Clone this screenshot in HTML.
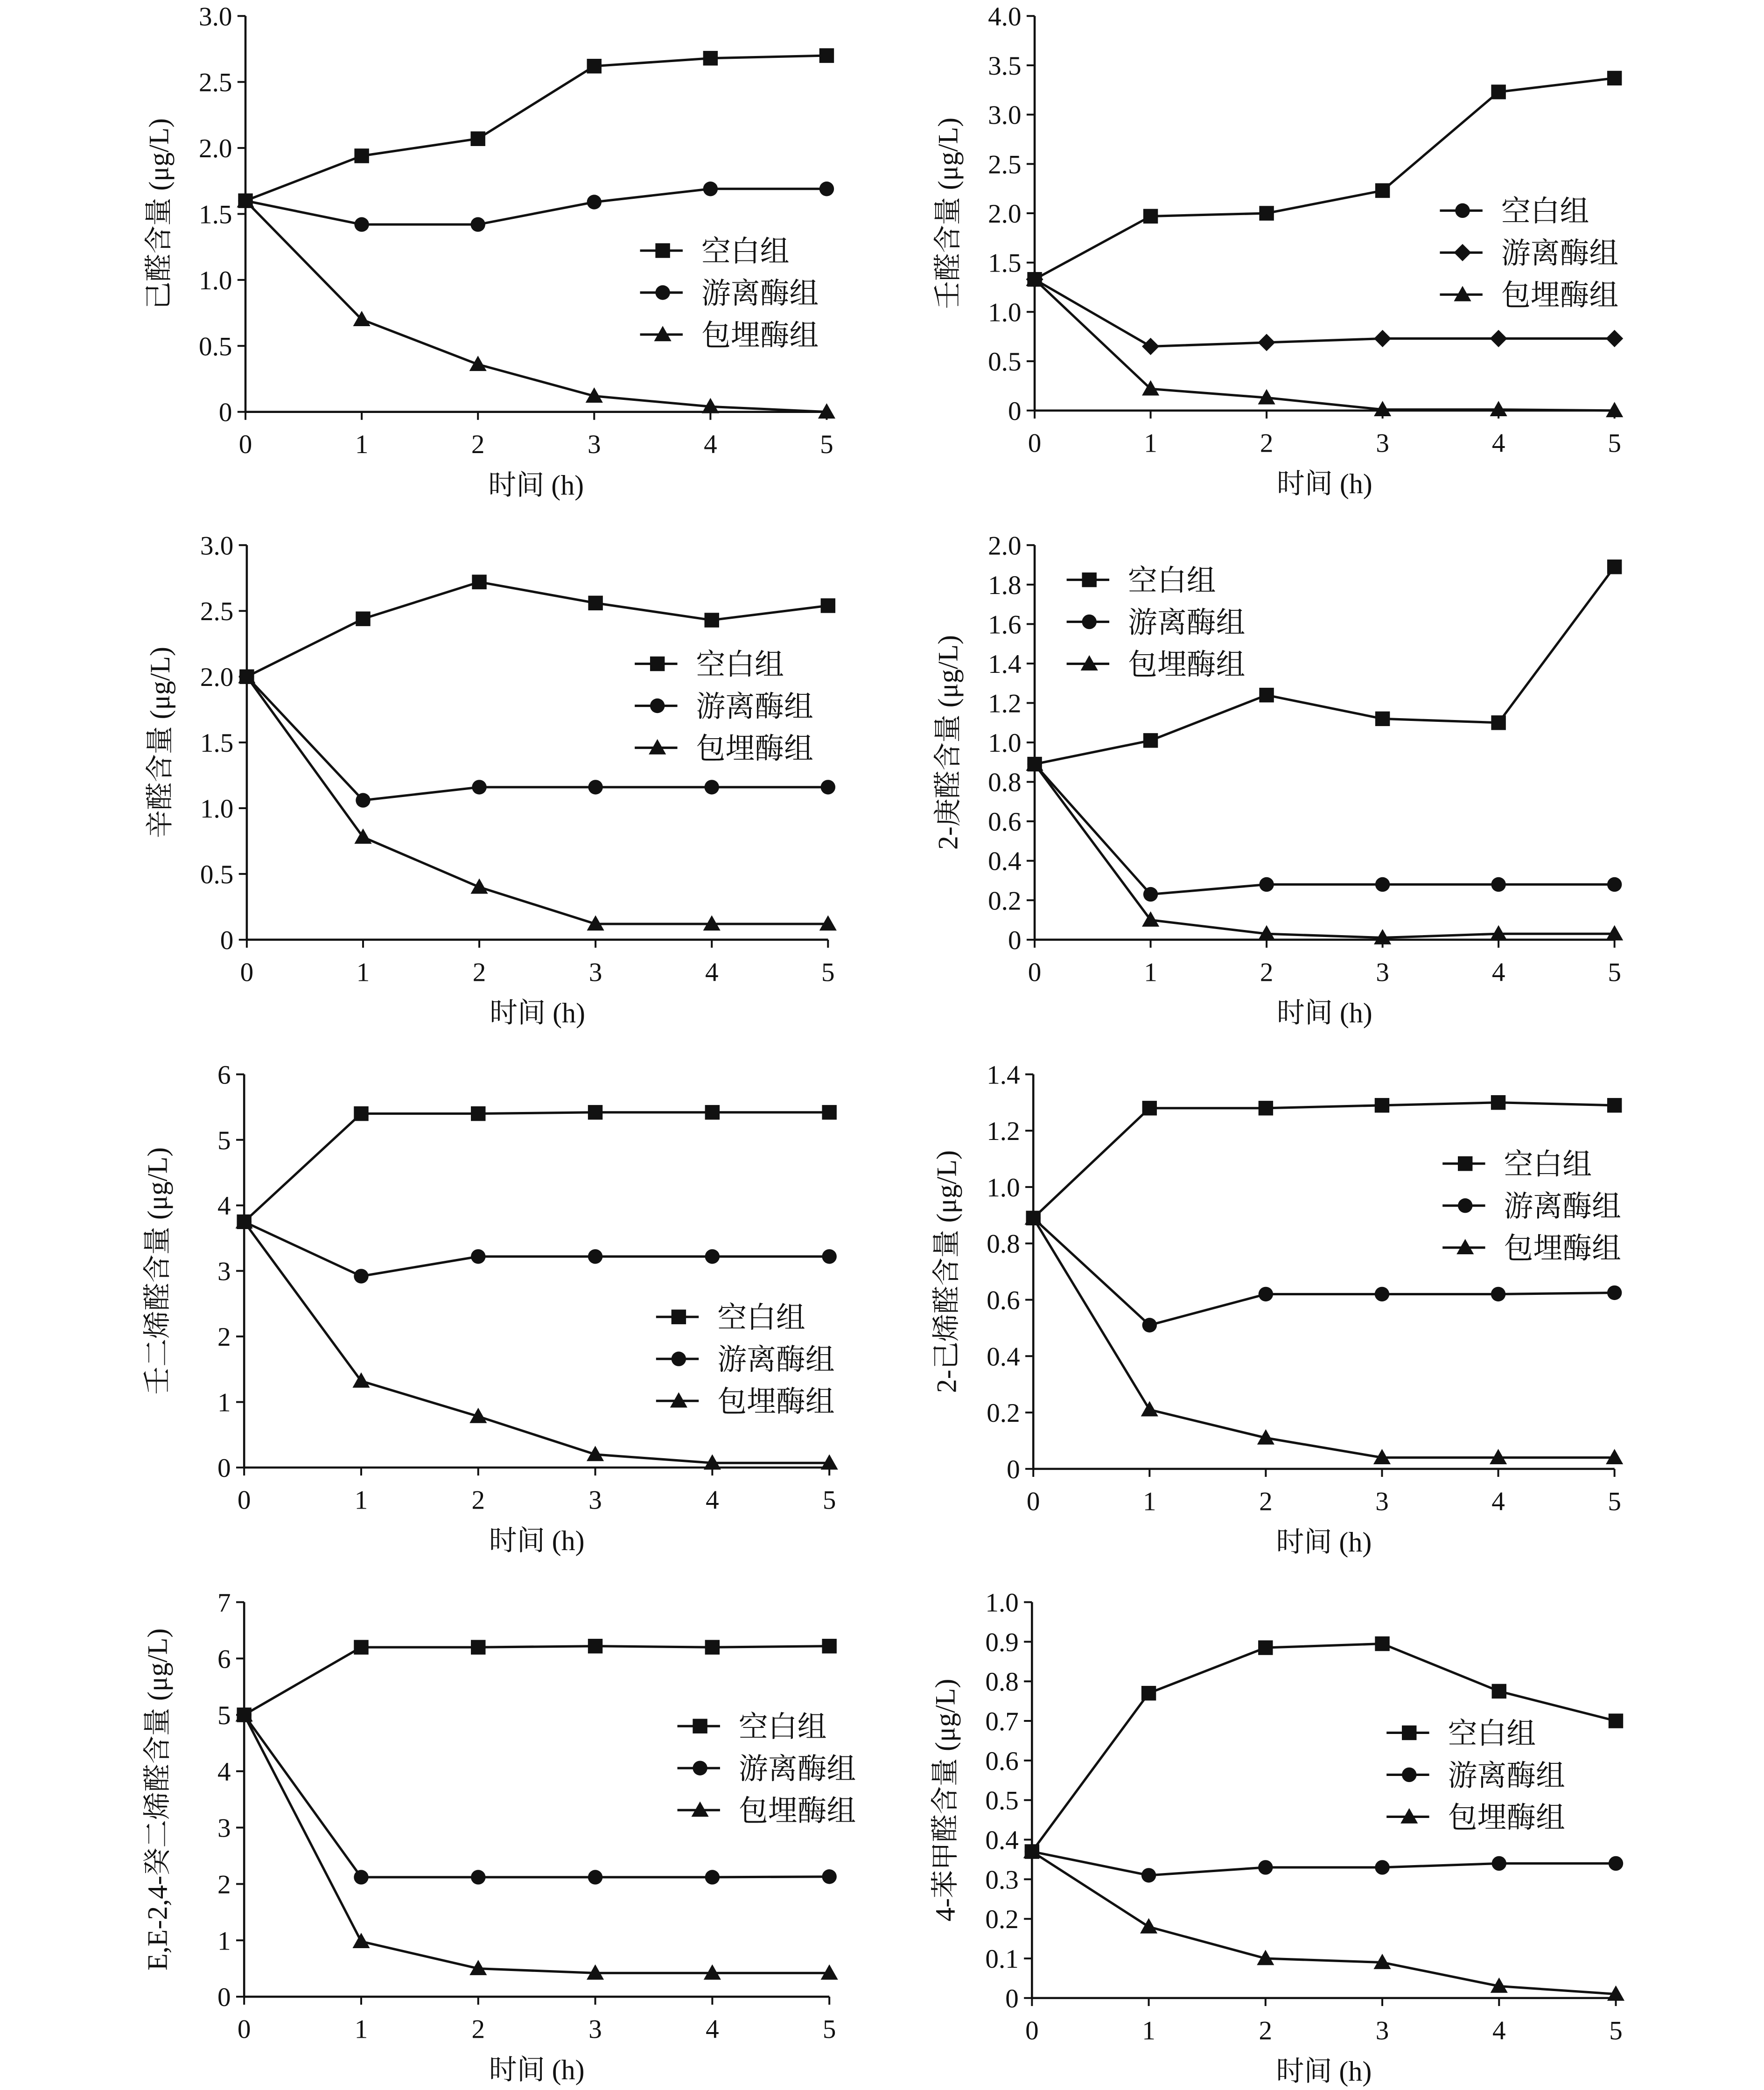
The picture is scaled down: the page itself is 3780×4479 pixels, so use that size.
<!DOCTYPE html>
<html><head><meta charset="utf-8">
<style>
html,body{margin:0;padding:0;background:#fff;}
svg{display:block;}
text{font-family:"Liberation Serif","Noto Serif CJK SC","Noto Sans CJK SC",serif;fill:#111;}
</style></head>
<body>
<svg id="fig" width="3780" height="4479" viewBox="0 0 1323 1568" xmlns="http://www.w3.org/2000/svg"></svg>
<script>
const xCategories = [0,1,2,3,4,5];
const seriesNames = ["空白组","游离酶组","包埋酶组"];
// panel data
const p1Blank=[1.6,1.94,2.07,2.62,2.68,2.7], p1Free=[1.6,1.42,1.42,1.59,1.69,1.69], p1Enc=[1.6,0.7,0.36,0.12,0.04,0.0];
const p2Blank=[1.33,1.97,2.0,2.23,3.23,3.37], p2Free=[1.33,0.65,0.69,0.73,0.73,0.73], p2Enc=[1.33,0.22,0.13,0.01,0.01,0.0];
const p3Blank=[2.0,2.44,2.72,2.56,2.43,2.54], p3Free=[2.0,1.06,1.16,1.16,1.16,1.16], p3Enc=[2.0,0.78,0.4,0.12,0.12,0.12];
const p4Blank=[0.89,1.01,1.24,1.12,1.1,1.89], p4Free=[0.89,0.23,0.28,0.28,0.28,0.28], p4Enc=[0.89,0.1,0.03,0.01,0.03,0.03];
const p5Blank=[3.75,5.4,5.4,5.42,5.42,5.42], p5Free=[3.75,2.92,3.22,3.22,3.22,3.22], p5Enc=[3.75,1.32,0.78,0.2,0.07,0.07];
const p6Blank=[0.89,1.28,1.28,1.29,1.3,1.29], p6Free=[0.89,0.51,0.62,0.62,0.62,0.625], p6Enc=[0.89,0.21,0.11,0.04,0.04,0.04];
const p7Blank=[5.0,6.2,6.2,6.22,6.2,6.22], p7Free=[5.0,2.12,2.12,2.12,2.12,2.13], p7Enc=[5.0,0.98,0.5,0.42,0.42,0.42];
const p8Blank=[0.37,0.77,0.885,0.895,0.775,0.7], p8Free=[0.37,0.31,0.33,0.33,0.34,0.34], p8Enc=[0.37,0.18,0.1,0.09,0.03,0.01];
// tick labels
const ticks1=["0","0.5","1.0","1.5","2.0","2.5","3.0"];
const ticks2=["0","0.5","1.0","1.5","2.0","2.5","3.0","3.5","4.0"];
const ticks4=["0","0.2","0.4","0.6","0.8","1.0","1.2","1.4","1.6","1.8","2.0"];
const ticks5=["0","1","2","3","4","5","6"];
const ticks6=["0","0.2","0.4","0.6","0.8","1.0","1.2","1.4"];
const ticks7=["0","1","2","3","4","5","6","7"];
const ticks8=["0","0.1","0.2","0.3","0.4","0.5","0.6","0.7","0.8","0.9","1.0"];
const yTitles=["己醛含量 (μg/L)","壬醛含量 (μg/L)","辛醛含量 (μg/L)","2-庚醛含量 (μg/L)","壬二烯醛含量 (μg/L)","2-己烯醛含量 (μg/L)","E,E-2,4-癸二烯醛含量 (μg/L)","4-苯甲醛含量 (μg/L)"];

const NS="http://www.w3.org/2000/svg";
const svg=document.getElementById('fig');
function el(tag,attrs,parent){const e=document.createElementNS(NS,tag);for(const k in attrs)e.setAttribute(k,attrs[k]);(parent||svg).appendChild(e);return e;}

function marker(g,shape,cx,cy){
  let m;
  if(shape==='s') m=el('rect',{x:cx-5.5,y:cy-5.5,width:11,height:11,fill:'#111'},g);
  else if(shape==='c') m=el('circle',{cx:cx,cy:cy,r:5.5,fill:'#111'},g);
  else if(shape==='d') m=el('polygon',{points:`${cx},${cy-6.5} ${cx+6.5},${cy} ${cx},${cy+6.5} ${cx-6.5},${cy}`,fill:'#111'},g);
  else m=el('polygon',{points:`${cx},${cy-6.5} ${cx+6.5},${cy+5} ${cx-6.5},${cy+5}`,fill:'#111'},g);
  return m;
}

const panels=[
 {x0:184,x1:620,y0:309,y1:12,ticks:ticks1,ymax:3,series:[p1Blank,p1Free,p1Enc],shapes:['s','c','t'],leg:{x:480,y:188},legShapes:['s','c','t']},
 {x0:776,x1:1211,y0:308,y1:12,ticks:ticks2,ymax:4,series:[p2Blank,p2Free,p2Enc],shapes:['s','d','t'],leg:{x:1080,y:158},legShapes:['c','d','t']},
 {x0:185,x1:621,y0:705,y1:409,ticks:ticks1,ymax:3,series:[p3Blank,p3Free,p3Enc],shapes:['s','c','t'],leg:{x:476,y:498},legShapes:['s','c','t']},
 {x0:776,x1:1211,y0:705,y1:409,ticks:ticks4,ymax:2,series:[p4Blank,p4Free,p4Enc],shapes:['s','c','t'],leg:{x:800,y:435},legShapes:['s','c','t']},
 {x0:183,x1:622,y0:1101,y1:806,ticks:ticks5,ymax:6,series:[p5Blank,p5Free,p5Enc],shapes:['s','c','t'],leg:{x:492,y:988},legShapes:['s','c','t']},
 {x0:775,x1:1211,y0:1102,y1:806,ticks:ticks6,ymax:1.4,series:[p6Blank,p6Free,p6Enc],shapes:['s','c','t'],leg:{x:1082,y:873},legShapes:['s','c','t']},
 {x0:183,x1:622,y0:1498,y1:1202,ticks:ticks7,ymax:7,series:[p7Blank,p7Free,p7Enc],shapes:['s','c','t'],leg:{x:508,y:1295},legShapes:['s','c','t']},
 {x0:774,x1:1212,y0:1499,y1:1202,ticks:ticks8,ymax:1,series:[p8Blank,p8Free,p8Enc],shapes:['s','c','t'],leg:{x:1040,y:1300},legShapes:['s','c','t']}
];
const keys=['blank','free','encap'];

panels.forEach((p,i)=>{
  const g=el('g',{});
  
  
  const xs=v=>p.x0+(v/5)*(p.x1-p.x0);
  const ys=v=>p.y0-(v/p.ymax)*(p.y0-p.y1);
  // axes
  const ya=el('line',{x1:p.x0,y1:p.y1,x2:p.x0,y2:p.y0,stroke:'#111','stroke-width':1.6},g);
  
  
  const xa=el('line',{x1:p.x0,y1:p.y0,x2:p.x1,y2:p.y0,stroke:'#111','stroke-width':1.6},g);
  
  
  const n=p.ticks.length-1;
  p.ticks.forEach((t,k)=>{
    const yy=p.y0-(k/n)*(p.y0-p.y1);
    el('line',{x1:p.x0-6,y1:yy,x2:p.x0,y2:yy,stroke:'#111','stroke-width':1.4},g);
    const tx=el('text',{x:p.x0-10,y:yy+7,'text-anchor':'end','font-size':20},g);
    tx.textContent=t;
    
    
  });
  xCategories.forEach(c=>{
    const xx=xs(c);
    el('line',{x1:xx,y1:p.y0,x2:xx,y2:p.y0+6,stroke:'#111','stroke-width':1.4},g);
    const tx=el('text',{x:xx,y:p.y0+31,'text-anchor':'middle','font-size':20},g);
    tx.textContent=String(c);
    
    
  });
  const xt=el('text',{x:(p.x0+p.x1)/2-0,y:p.y0+62,'text-anchor':'middle','font-size':21},g);
  xt.textContent='时间 (h)';
  
  
  const yc=(p.y0+p.y1)/2, yx=p.x0-58;
  const yt=el('text',{x:yx,y:yc,'text-anchor':'middle','font-size':21,transform:`rotate(-90 ${yx} ${yc})`},g);
  yt.textContent=yTitles[i];
  
  
  // series
  p.series.forEach((vals,s)=>{
    const sg=el('g',{},g);
    
    
    const pts=vals.map((v,k)=>xs(xCategories[k])+','+ys(v)).join(' ');
    el('polyline',{points:pts,fill:'none',stroke:'#111','stroke-width':1.8},sg);
    vals.forEach((v,k)=>{
      const m=marker(sg,p.shapes[s],xs(xCategories[k]),ys(v));
      
      
    });
  });
  // legend
  const lg=el('g',{},g);
  
  
  seriesNames.forEach((nm,s)=>{
    const ly=p.leg.y+s*31.5;
    const eg=el('g',{},lg);
    
    
    el('line',{x1:p.leg.x,y1:ly,x2:p.leg.x+32,y2:ly,stroke:'#111','stroke-width':1.8},eg);
    marker(eg,p.legShapes[s],p.leg.x+17,ly);
    const t=el('text',{x:p.leg.x+46,y:ly+8,'font-size':22},eg);
    t.textContent=nm;
  });
});
</script>
</body></html>
